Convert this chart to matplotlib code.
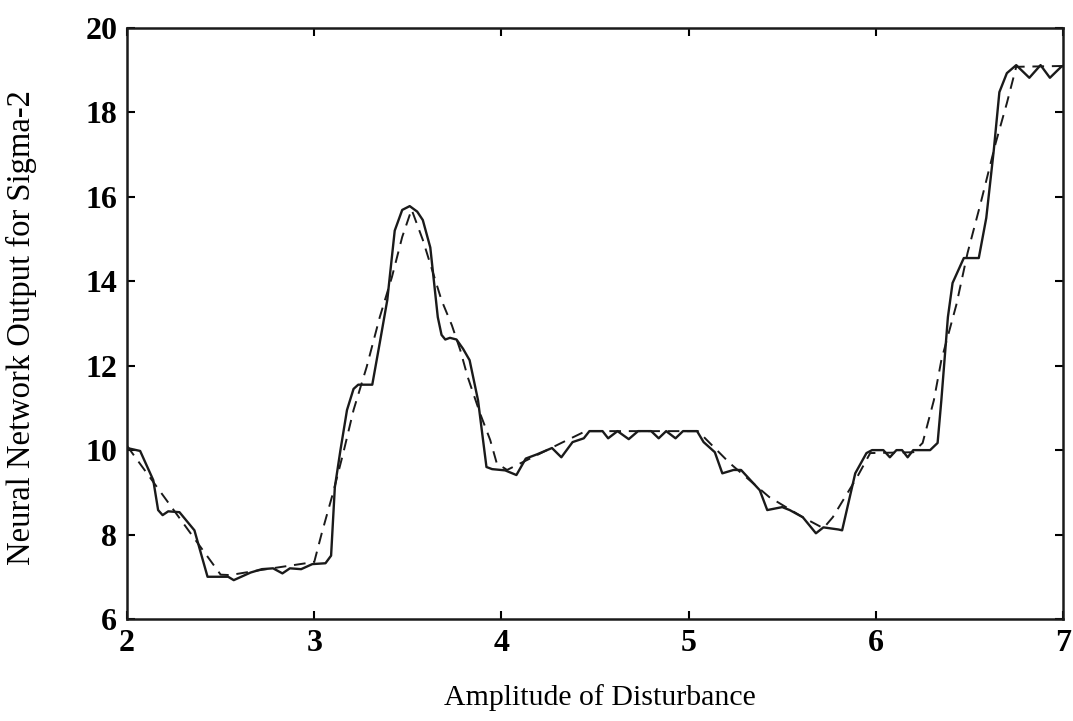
import matplotlib
matplotlib.use("Agg")
import matplotlib.pyplot as plt

# network output (solid)
net_x = [2.00, 2.07, 2.14, 2.166, 2.19, 2.22, 2.28, 2.36, 2.43, 2.54, 2.57, 2.62, 2.66, 2.72, 2.78, 2.83,
         2.87, 2.93, 2.99, 3.06, 3.09, 3.11, 3.14, 3.175, 3.21, 3.235, 3.31, 3.35, 3.39, 3.43,
         3.47, 3.51, 3.55, 3.58, 3.62, 3.66, 3.68, 3.70, 3.725, 3.76, 3.795, 3.83, 3.875, 3.90, 3.92,
         3.95, 4.02, 4.08, 4.13, 4.19, 4.27, 4.32, 4.38, 4.44, 4.47, 4.54, 4.57, 4.62, 4.68,
         4.73, 4.80, 4.84, 4.88, 4.93, 4.97, 5.045, 5.08, 5.14, 5.18, 5.24, 5.28, 5.38, 5.42,
         5.50, 5.54, 5.61, 5.68, 5.72, 5.80, 5.82, 5.89, 5.95, 5.98, 6.04, 6.075, 6.11, 6.14,
         6.17, 6.20, 6.29, 6.33, 6.35, 6.385, 6.41, 6.47, 6.55, 6.59, 6.63, 6.66, 6.70, 6.75, 6.82,
         6.88, 6.93, 6.99, 7.00]
net_y = [10.05, 9.98, 9.29, 8.58, 8.46, 8.55, 8.53, 8.10, 7.00, 7.00, 6.92, 7.02, 7.10, 7.18, 7.20, 7.08,
         7.20, 7.18, 7.30, 7.32, 7.50, 9.12, 10.00, 10.95, 11.45, 11.55, 11.55, 12.54, 13.55, 15.20,
         15.69, 15.78, 15.65, 15.45, 14.80, 13.15, 12.73, 12.62, 12.66, 12.62, 12.40, 12.13, 11.18, 10.30, 9.60,
         9.55, 9.52, 9.41, 9.80, 9.90, 10.05, 9.83, 10.19, 10.28, 10.45, 10.45, 10.28, 10.45, 10.26,
         10.45, 10.45, 10.28, 10.45, 10.28, 10.45, 10.45, 10.19, 9.95, 9.45, 9.53, 9.53, 9.05, 8.58,
         8.65, 8.58, 8.41, 8.03, 8.17, 8.12, 8.10, 9.45, 9.93, 10.00, 10.00, 9.83, 10.00, 10.00,
         9.83, 10.00, 10.00, 10.17, 11.18, 13.15, 13.96, 14.55, 14.55, 15.50, 17.10, 18.48, 18.93, 19.12, 18.82,
         19.12, 18.82, 19.08, 19.10]

# target (dashed)
tgt_x = [2.00, 2.50, 2.55, 2.70, 2.85, 3.00, 3.04, 3.10, 3.155, 3.21, 3.28, 3.35, 3.415, 3.47, 3.52,
         3.58, 3.68, 3.735, 3.78, 3.82, 3.885, 3.94, 3.975, 4.03, 4.32, 4.45, 5.05, 5.22, 5.43,
         5.61, 5.72, 5.77, 5.90, 5.97, 6.20, 6.25, 6.31, 6.35, 6.43, 6.49, 6.56, 6.64, 6.70, 6.75, 7.00]
tgt_y = [10.10, 7.05, 7.04, 7.15, 7.25, 7.35, 8.03, 8.98, 9.93, 10.95, 11.97, 13.15, 14.10, 15.05, 15.70,
         14.98, 13.55, 12.96, 12.37, 11.73, 10.88, 10.24, 9.69, 9.53, 10.17, 10.45, 10.45, 9.69, 8.89,
         8.41, 8.15, 8.41, 9.36, 9.93, 9.95, 10.17, 11.18, 12.13, 13.44, 14.67, 15.85, 17.27, 18.22, 19.08, 19.10]

plt.rcParams['font.family'] = ['Liberation Serif', 'DejaVu Serif']

fig = plt.figure(figsize=(10.73, 7.21), dpi=100)
ax = fig.add_axes([0.1184, 0.1415, 0.8723, 0.8197])

ax.plot(net_x, net_y, color='#1a1a1a', lw=1.7, solid_joinstyle='round')
ax.plot(tgt_x, tgt_y, color='#1a1a1a', lw=1.4, dashes=(6, 4))

ax.set_xlim(2, 7)
ax.set_ylim(6, 20)
ax.set_xticks([2, 3, 4, 5, 6, 7])
ax.set_yticks([6, 8, 10, 12, 14, 16, 18, 20])
ax.tick_params(direction='in', length=6, width=1.5, top=True, right=True,
               labelsize=23, pad=7)
for lab in ax.get_xticklabels() + ax.get_yticklabels():
    lab.set_fontweight('bold')
for sp in ax.spines.values():
    sp.set_linewidth(1.8)
    sp.set_color('#1a1a1a')

fig.text(0.559, 0.033, 'Amplitude of Disturbance', ha='center', va='center', fontsize=21.5)
fig.text(0.020, 0.545, 'Neural Network Output for Sigma-2', ha='center', va='center',
         rotation=90, fontsize=23.5)

fig.savefig('out.png', dpi=100)
